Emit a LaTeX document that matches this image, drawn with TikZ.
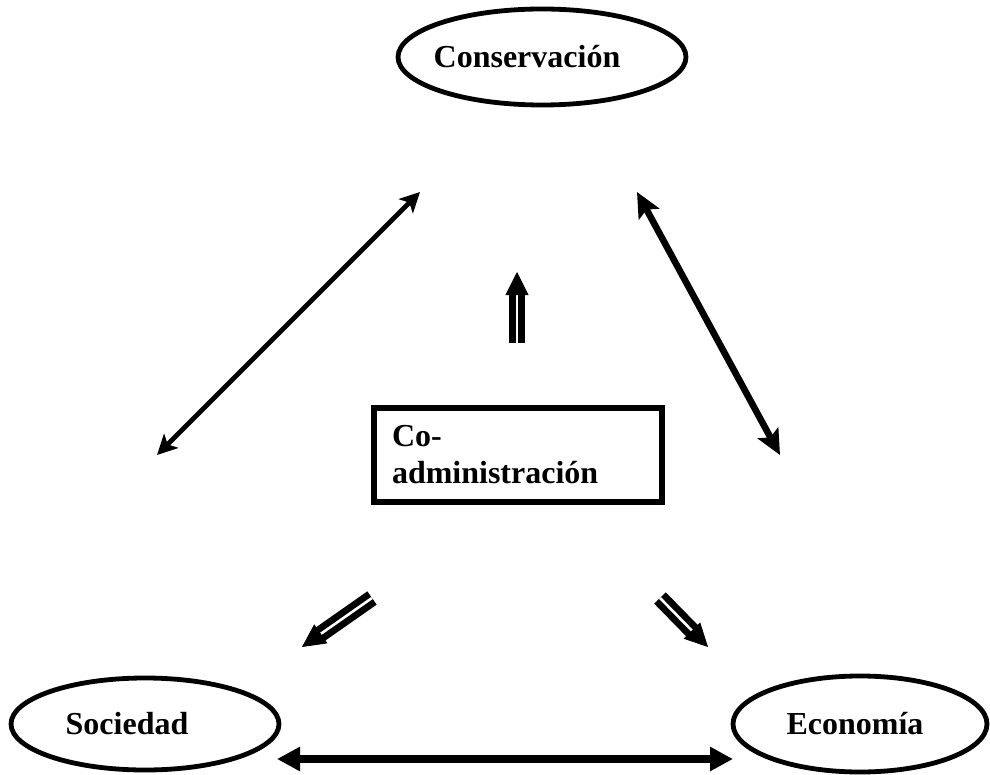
\documentclass[tikz,border=0pt]{standalone}
\usepackage{fontspec}
\setmainfont{Liberation Serif}
\usetikzlibrary{shapes.geometric,arrows.meta,calc}
\tikzset{
  ell/.style={draw, ellipse, line width=2.4pt, inner sep=0pt,
    font=\bfseries\fontsize{16}{18.5}\selectfont},
  boxnode/.style={draw, rectangle, line width=3pt, minimum width=144pt,
    minimum height=47pt, inner xsep=9pt, inner ysep=0pt, text width=126pt,
    align=left, font=\bfseries\fontsize{16}{18.5}\selectfont},
  thinarr/.style={line width=2.4pt,
    {Stealth[length=10pt 0,width=10pt 0,inset=2.5pt 0]}-{Stealth[length=10pt 0,width=10pt 0,inset=2.5pt 0]}},
  thickarr/.style={line width=3.3pt,
    {Stealth[length=12.5pt 0,width=11.5pt 0,inset=2.5pt 0]}-{Stealth[length=12.5pt 0,width=11.5pt 0,inset=2.5pt 0]}},
  basearr/.style={line width=4pt,
    {Triangle[length=11.5pt 0,width=11.5pt 0]}-{Triangle[length=11.5pt 0,width=11.5pt 0]}},
  dblline/.style={double, line width=3.4pt, double distance=1.3pt},
  dblhead/.style={line width=0.4pt, -{Triangle[length=11.5pt 0,width=11.5pt 0]}}
}
\begin{document}
\begin{tikzpicture}[x=0.5pt,y=-0.5pt]
\useasboundingbox (0,0) rectangle (990,775);
% ellipses
\node[ell, minimum width=144pt, minimum height=48pt] (cons) at (542,57) {\makebox[0pt]{Conservación\kern15pt}};
\node[ell, minimum width=134pt, minimum height=46pt] (soc) at (145,724) {\makebox[0pt]{Sociedad\kern18pt}};
\node[ell, minimum width=127pt, minimum height=48pt] (eco) at (860,724) {\makebox[0pt]{Economía\kern5pt}};
% central box
\node[boxnode] (coadm) at (518,455) {Co-\\administración};
% coordinates of free arrow ends
\coordinate (l1) at (157,455);
\coordinate (l2) at (420,192);
\coordinate (r1) at (637,192);
\coordinate (r2) at (780,455);
\coordinate (b1) at (277,759);
\coordinate (b2) at (733,759);
\coordinate (u1) at (517,343);
\coordinate (u2) at (517,272);
\coordinate (ll1) at (372,598);
\coordinate (ll2) at (302,647);
\coordinate (lr1) at (660,598);
\coordinate (lr2) at (708,647);
% arrows
\draw[thinarr] (l1) -- (l2);
\draw[thickarr] (r1) -- (r2);
\draw[basearr] (b1) -- (b2);
% double arrows
\draw[dblline, shorten >=10pt] (u1) -- (u2);
\draw[dblhead] ($(u2)!11pt!(u1)$) -- (u2);
\draw[dblline, shorten >=10pt] (ll1) -- (ll2);
\draw[dblhead] ($(ll2)!11pt!(ll1)$) -- (ll2);
\draw[dblline, shorten >=10pt] (lr1) -- (lr2);
\draw[dblhead] ($(lr2)!11pt!(lr1)$) -- (lr2);
\end{tikzpicture}
\end{document}
